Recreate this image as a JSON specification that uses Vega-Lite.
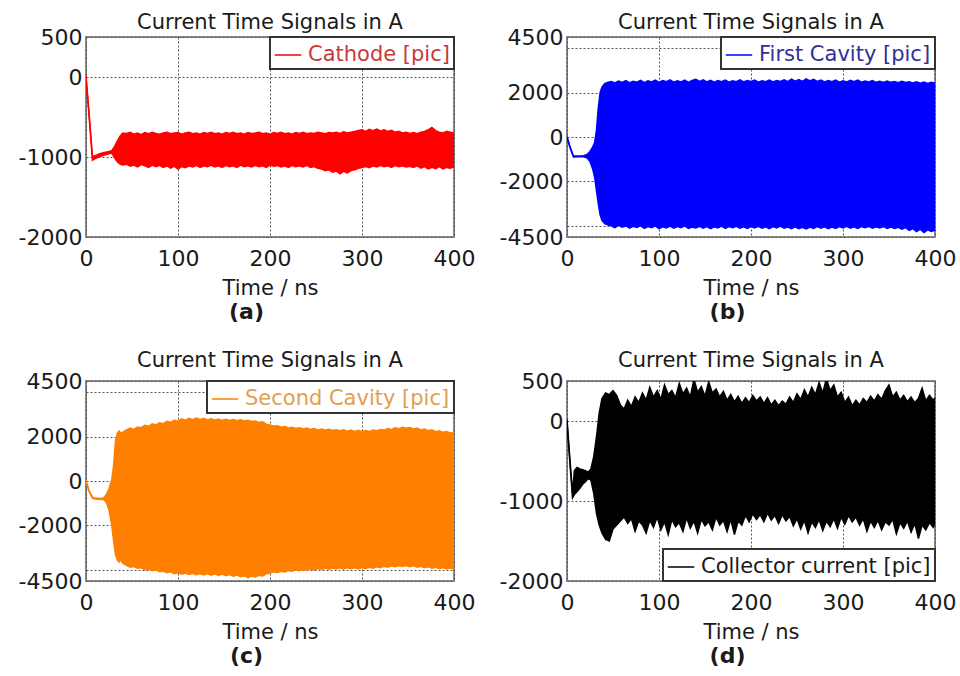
{
  "$schema": "https://vega.github.io/schema/vega-lite/v6.json",
  "autosize": {"type": "pad"},
  "padding": {"left": 17, "top": 11, "right": 2, "bottom": 2},
  "background": "white",
  "config": {
    "font": "DejaVu Sans",
    "view": {"stroke": "#8a8a8a", "strokeWidth": 2},
    "axis": {"domain": false, "ticks": false, "labelPadding": 4, "labelFontSize": 22, "labelColor": "#1a1a1a", "titleFontSize": 21, "titleFontWeight": "normal", "titleColor": "#1a1a1a", "grid": true, "gridColor": "#555555", "gridDash": [2, 2], "gridWidth": 1, "labelFlush": false, "labelOverlap": false},
    "axisX": {"labelPadding": 11, "titlePadding": 8},
    "title": {"fontSize": 21, "fontWeight": "normal", "color": "#1a1a1a", "offset": -7, "anchor": "middle"},
    "legend": {"title": null, "labelFontSize": 21, "symbolType": "stroke", "symbolSize": 700, "symbolStrokeWidth": 1.5, "strokeColor": "#333333", "strokeWidth": 2, "fillColor": "white", "padding": 4, "offset": 0, "labelLimit": 400, "labelOffset": 6}
  },
  "datasets": {
    "a": [
      {"t":0,"hi":20,"lo":-20},{"t":3,"hi":-400,"lo":-440},{"t":7,"hi":-990,"lo":-1040},{"t":10,"hi":-985,"lo":-1020},{"t":15,"hi":-960,"lo":-995},{"t":20,"hi":-945,"lo":-975},{"t":25,"hi":-930,"lo":-960},{"t":28,"hi":-920,"lo":-950},{"t":31,"hi":-870,"lo":-1010},{"t":34,"hi":-800,"lo":-1060},{"t":37,"hi":-740,"lo":-1090},{"t":40,"hi":-700,"lo":-1100},
      {"t":44,"hi":-705,"lo":-1090},{"t":48,"hi":-690,"lo":-1115},{"t":52,"hi":-715,"lo":-1100},{"t":56,"hi":-700,"lo":-1125},{"t":60,"hi":-720,"lo":-1095},{"t":64,"hi":-695,"lo":-1110},{"t":68,"hi":-710,"lo":-1130},{"t":72,"hi":-690,"lo":-1100},{"t":76,"hi":-705,"lo":-1120},{"t":80,"hi":-715,"lo":-1105},{"t":84,"hi":-700,"lo":-1130},{"t":88,"hi":-690,"lo":-1110},{"t":92,"hi":-710,"lo":-1140},{"t":96,"hi":-700,"lo":-1115},{"t":100,"hi":-695,"lo":-1150},{"t":104,"hi":-715,"lo":-1120},{"t":108,"hi":-700,"lo":-1135},{"t":112,"hi":-690,"lo":-1110},{"t":116,"hi":-710,"lo":-1125},{"t":120,"hi":-700,"lo":-1105},{"t":124,"hi":-715,"lo":-1130},{"t":128,"hi":-695,"lo":-1110},{"t":132,"hi":-705,"lo":-1120},{"t":136,"hi":-690,"lo":-1100},{"t":140,"hi":-710,"lo":-1125},{"t":144,"hi":-700,"lo":-1110},{"t":148,"hi":-715,"lo":-1130},{"t":152,"hi":-695,"lo":-1105},{"t":156,"hi":-705,"lo":-1120},{"t":160,"hi":-690,"lo":-1110},{"t":164,"hi":-710,"lo":-1130},{"t":168,"hi":-700,"lo":-1100},{"t":172,"hi":-715,"lo":-1120},{"t":176,"hi":-695,"lo":-1110},{"t":180,"hi":-705,"lo":-1125},{"t":184,"hi":-700,"lo":-1105},{"t":188,"hi":-690,"lo":-1120},{"t":192,"hi":-710,"lo":-1110},{"t":196,"hi":-700,"lo":-1130},{"t":200,"hi":-715,"lo":-1100},{"t":204,"hi":-695,"lo":-1115},{"t":208,"hi":-705,"lo":-1105},{"t":212,"hi":-690,"lo":-1125},{"t":216,"hi":-710,"lo":-1110},{"t":220,"hi":-700,"lo":-1130},{"t":224,"hi":-715,"lo":-1105},{"t":228,"hi":-695,"lo":-1120},{"t":232,"hi":-705,"lo":-1110},{"t":236,"hi":-690,"lo":-1125},{"t":240,"hi":-710,"lo":-1105},{"t":244,"hi":-700,"lo":-1130},{"t":248,"hi":-705,"lo":-1120},{"t":252,"hi":-690,"lo":-1140},{"t":256,"hi":-700,"lo":-1150},{"t":260,"hi":-710,"lo":-1170},{"t":264,"hi":-695,"lo":-1160},{"t":268,"hi":-700,"lo":-1190},{"t":272,"hi":-690,"lo":-1175},{"t":276,"hi":-705,"lo":-1210},{"t":280,"hi":-685,"lo":-1180},{"t":284,"hi":-700,"lo":-1200},{"t":288,"hi":-690,"lo":-1170},{"t":292,"hi":-680,"lo":-1160},{"t":296,"hi":-670,"lo":-1140},{"t":300,"hi":-660,"lo":-1130},{"t":304,"hi":-680,"lo":-1120},{"t":308,"hi":-655,"lo":-1135},{"t":312,"hi":-670,"lo":-1110},{"t":316,"hi":-650,"lo":-1125},{"t":320,"hi":-675,"lo":-1105},{"t":324,"hi":-660,"lo":-1120},{"t":328,"hi":-680,"lo":-1110},{"t":332,"hi":-665,"lo":-1130},{"t":336,"hi":-690,"lo":-1105},{"t":340,"hi":-680,"lo":-1120},{"t":344,"hi":-700,"lo":-1110},{"t":348,"hi":-690,"lo":-1125},{"t":352,"hi":-705,"lo":-1115},{"t":356,"hi":-695,"lo":-1130},{"t":360,"hi":-710,"lo":-1110},{"t":364,"hi":-690,"lo":-1140},{"t":368,"hi":-680,"lo":-1120},{"t":372,"hi":-660,"lo":-1150},{"t":376,"hi":-630,"lo":-1130},{"t":380,"hi":-670,"lo":-1145},{"t":384,"hi":-690,"lo":-1120},{"t":388,"hi":-700,"lo":-1150},{"t":392,"hi":-680,"lo":-1130},{"t":396,"hi":-690,"lo":-1140},{"t":400,"hi":-700,"lo":-1120}
    ],
    "b": [
      {"t":0,"hi":20,"lo":-20},{"t":3,"hi":-400,"lo":-440},{"t":7,"hi":-850,"lo":-900},{"t":12,"hi":-850,"lo":-890},{"t":18,"hi":-840,"lo":-880},{"t":22,"hi":-780,"lo":-950},{"t":25,"hi":-650,"lo":-1100},{"t":28,"hi":-450,"lo":-1450},{"t":30,"hi":-250,"lo":-1800},{"t":32,"hi":300,"lo":-2400},{"t":34,"hi":1300,"lo":-3000},{"t":36,"hi":2000,"lo":-3500},{"t":38,"hi":2250,"lo":-3750},{"t":41,"hi":2400,"lo":-3900},{"t":44,"hi":2450,"lo":-3950},
      {"t":48,"hi":2500,"lo":-4000},{"t":52,"hi":2430,"lo":-4080},{"t":56,"hi":2520,"lo":-3980},{"t":60,"hi":2460,"lo":-4060},{"t":64,"hi":2540,"lo":-4000},{"t":68,"hi":2440,"lo":-4100},{"t":72,"hi":2510,"lo":-4020},{"t":76,"hi":2470,"lo":-4070},{"t":80,"hi":2550,"lo":-3990},{"t":84,"hi":2450,"lo":-4110},{"t":88,"hi":2530,"lo":-4030},{"t":92,"hi":2480,"lo":-4080},{"t":96,"hi":2560,"lo":-4000},{"t":100,"hi":2460,"lo":-4120},{"t":104,"hi":2540,"lo":-4040},{"t":108,"hi":2490,"lo":-4090},{"t":112,"hi":2570,"lo":-4010},{"t":116,"hi":2470,"lo":-4100},{"t":120,"hi":2530,"lo":-4030},{"t":124,"hi":2480,"lo":-4080},{"t":128,"hi":2560,"lo":-4000},{"t":132,"hi":2460,"lo":-4110},{"t":136,"hi":2540,"lo":-4050},{"t":140,"hi":2600,"lo":-4090},{"t":144,"hi":2500,"lo":-4020},{"t":148,"hi":2570,"lo":-4100},{"t":152,"hi":2480,"lo":-4030},{"t":156,"hi":2550,"lo":-4120},{"t":160,"hi":2470,"lo":-4040},{"t":164,"hi":2540,"lo":-4090},{"t":168,"hi":2490,"lo":-4010},{"t":172,"hi":2560,"lo":-4110},{"t":176,"hi":2470,"lo":-4030},{"t":180,"hi":2530,"lo":-4080},{"t":184,"hi":2490,"lo":-4020},{"t":188,"hi":2570,"lo":-4100},{"t":192,"hi":2480,"lo":-4040},{"t":196,"hi":2540,"lo":-4110},{"t":200,"hi":2500,"lo":-4030},{"t":204,"hi":2560,"lo":-4090},{"t":208,"hi":2470,"lo":-4020},{"t":212,"hi":2530,"lo":-4100},{"t":216,"hi":2490,"lo":-4040},{"t":220,"hi":2560,"lo":-4120},{"t":224,"hi":2480,"lo":-4030},{"t":228,"hi":2540,"lo":-4090},{"t":232,"hi":2500,"lo":-4010},{"t":236,"hi":2570,"lo":-4100},{"t":240,"hi":2490,"lo":-4050},{"t":244,"hi":2600,"lo":-4120},{"t":248,"hi":2510,"lo":-4040},{"t":252,"hi":2580,"lo":-4130},{"t":256,"hi":2500,"lo":-4060},{"t":260,"hi":2620,"lo":-4140},{"t":264,"hi":2520,"lo":-4050},{"t":268,"hi":2590,"lo":-4110},{"t":272,"hi":2500,"lo":-4030},{"t":276,"hi":2560,"lo":-4100},{"t":280,"hi":2480,"lo":-4040},{"t":284,"hi":2540,"lo":-4120},{"t":288,"hi":2490,"lo":-4050},{"t":292,"hi":2560,"lo":-4110},{"t":296,"hi":2470,"lo":-4030},{"t":300,"hi":2530,"lo":-4090},{"t":304,"hi":2480,"lo":-4020},{"t":308,"hi":2550,"lo":-4100},{"t":312,"hi":2490,"lo":-4040},{"t":316,"hi":2560,"lo":-4110},{"t":320,"hi":2470,"lo":-4030},{"t":324,"hi":2520,"lo":-4080},{"t":328,"hi":2480,"lo":-4020},{"t":332,"hi":2540,"lo":-4100},{"t":336,"hi":2460,"lo":-4040},{"t":340,"hi":2510,"lo":-4090},{"t":344,"hi":2450,"lo":-4030},{"t":348,"hi":2520,"lo":-4110},{"t":352,"hi":2460,"lo":-4050},{"t":356,"hi":2500,"lo":-4120},{"t":360,"hi":2440,"lo":-4060},{"t":364,"hi":2510,"lo":-4150},{"t":368,"hi":2450,"lo":-4080},{"t":372,"hi":2490,"lo":-4200},{"t":376,"hi":2430,"lo":-4120},{"t":380,"hi":2480,"lo":-4260},{"t":384,"hi":2420,"lo":-4150},{"t":388,"hi":2470,"lo":-4300},{"t":392,"hi":2410,"lo":-4180},{"t":396,"hi":2460,"lo":-4250},{"t":400,"hi":2420,"lo":-4200}
    ],
    "c": [
      {"t":0,"hi":20,"lo":-20},{"t":3,"hi":-400,"lo":-440},{"t":7,"hi":-730,"lo":-780},{"t":10,"hi":-770,"lo":-810},{"t":15,"hi":-790,"lo":-830},{"t":19,"hi":-760,"lo":-820},{"t":22,"hi":-620,"lo":-950},{"t":25,"hi":-350,"lo":-1300},{"t":28,"hi":50,"lo":-2000},{"t":30,"hi":700,"lo":-2700},{"t":32,"hi":1800,"lo":-3300},{"t":34,"hi":2150,"lo":-3550},{"t":36,"hi":2250,"lo":-3650},{"t":38,"hi":2150,"lo":-3550},{"t":40,"hi":2200,"lo":-3700},
      {"t":44,"hi":2300,"lo":-3800},{"t":48,"hi":2380,"lo":-3880},{"t":52,"hi":2320,"lo":-3850},{"t":56,"hi":2430,"lo":-3930},{"t":60,"hi":2400,"lo":-3900},{"t":64,"hi":2510,"lo":-3990},{"t":68,"hi":2460,"lo":-3960},{"t":72,"hi":2570,"lo":-4040},{"t":76,"hi":2520,"lo":-4000},{"t":80,"hi":2620,"lo":-4080},{"t":84,"hi":2580,"lo":-4050},{"t":88,"hi":2690,"lo":-4130},{"t":92,"hi":2640,"lo":-4090},{"t":96,"hi":2740,"lo":-4170},{"t":100,"hi":2690,"lo":-4130},{"t":104,"hi":2800,"lo":-4190},{"t":108,"hi":2740,"lo":-4140},{"t":112,"hi":2820,"lo":-4210},{"t":116,"hi":2760,"lo":-4150},{"t":120,"hi":2830,"lo":-4220},{"t":124,"hi":2770,"lo":-4160},{"t":128,"hi":2820,"lo":-4230},{"t":132,"hi":2750,"lo":-4170},{"t":136,"hi":2800,"lo":-4240},{"t":140,"hi":2740,"lo":-4180},{"t":144,"hi":2790,"lo":-4250},{"t":148,"hi":2730,"lo":-4190},{"t":152,"hi":2780,"lo":-4260},{"t":156,"hi":2720,"lo":-4210},{"t":160,"hi":2770,"lo":-4280},{"t":164,"hi":2710,"lo":-4230},{"t":168,"hi":2750,"lo":-4310},{"t":172,"hi":2700,"lo":-4260},{"t":176,"hi":2730,"lo":-4350},{"t":180,"hi":2680,"lo":-4280},{"t":184,"hi":2700,"lo":-4320},{"t":188,"hi":2640,"lo":-4240},{"t":192,"hi":2660,"lo":-4270},{"t":196,"hi":2560,"lo":-4180},{"t":200,"hi":2520,"lo":-4140},{"t":204,"hi":2470,"lo":-4090},{"t":208,"hi":2490,"lo":-4120},{"t":212,"hi":2420,"lo":-4060},{"t":216,"hi":2450,"lo":-4090},{"t":220,"hi":2390,"lo":-4030},{"t":224,"hi":2420,"lo":-4060},{"t":228,"hi":2360,"lo":-4000},{"t":232,"hi":2400,"lo":-4040},{"t":236,"hi":2340,"lo":-3980},{"t":240,"hi":2380,"lo":-4010},{"t":244,"hi":2320,"lo":-3960},{"t":248,"hi":2360,"lo":-4000},{"t":252,"hi":2300,"lo":-3940},{"t":256,"hi":2340,"lo":-3980},{"t":260,"hi":2290,"lo":-3930},{"t":264,"hi":2330,"lo":-3970},{"t":268,"hi":2270,"lo":-3920},{"t":272,"hi":2310,"lo":-3960},{"t":276,"hi":2260,"lo":-3910},{"t":280,"hi":2300,"lo":-3960},{"t":284,"hi":2240,"lo":-3900},{"t":288,"hi":2290,"lo":-3950},{"t":292,"hi":2230,"lo":-3910},{"t":296,"hi":2280,"lo":-3960},{"t":300,"hi":2220,"lo":-3900},{"t":304,"hi":2270,"lo":-3940},{"t":308,"hi":2230,"lo":-3880},{"t":312,"hi":2290,"lo":-3920},{"t":316,"hi":2260,"lo":-3860},{"t":320,"hi":2320,"lo":-3900},{"t":324,"hi":2290,"lo":-3840},{"t":328,"hi":2360,"lo":-3880},{"t":332,"hi":2320,"lo":-3820},{"t":336,"hi":2390,"lo":-3860},{"t":340,"hi":2350,"lo":-3800},{"t":344,"hi":2420,"lo":-3850},{"t":348,"hi":2370,"lo":-3800},{"t":352,"hi":2410,"lo":-3860},{"t":356,"hi":2340,"lo":-3820},{"t":360,"hi":2380,"lo":-3880},{"t":364,"hi":2300,"lo":-3840},{"t":368,"hi":2340,"lo":-3900},{"t":372,"hi":2260,"lo":-3860},{"t":376,"hi":2300,"lo":-3920},{"t":380,"hi":2220,"lo":-3880},{"t":384,"hi":2260,"lo":-3940},{"t":388,"hi":2190,"lo":-3900},{"t":392,"hi":2230,"lo":-3960},{"t":396,"hi":2160,"lo":-3920},{"t":400,"hi":2180,"lo":-3960}
    ],
    "d": [
      {"t":0,"hi":20,"lo":-20},{"t":3,"hi":-450,"lo":-500},{"t":6,"hi":-900,"lo":-960},{"t":8,"hi":-620,"lo":-920},{"t":11,"hi":-580,"lo":-880},{"t":14,"hi":-600,"lo":-840},{"t":17,"hi":-610,"lo":-790},{"t":20,"hi":-620,"lo":-760},{"t":23,"hi":-640,"lo":-720},{"t":26,"hi":-600,"lo":-740},{"t":29,"hi":-450,"lo":-900},{"t":32,"hi":-200,"lo":-1150},{"t":35,"hi":100,"lo":-1300},{"t":38,"hi":280,"lo":-1400},{"t":42,"hi":350,"lo":-1480},{"t":46,"hi":330,"lo":-1500},{"t":50,"hi":380,"lo":-1350},{"t":54,"hi":320,"lo":-1300},{"t":58,"hi":200,"lo":-1250},{"t":62,"hi":150,"lo":-1200},
      {"t":66,"hi":260,"lo":-1280},{"t":70,"hi":180,"lo":-1220},{"t":74,"hi":300,"lo":-1380},{"t":78,"hi":230,"lo":-1250},{"t":82,"hi":350,"lo":-1300},{"t":86,"hi":260,"lo":-1400},{"t":90,"hi":420,"lo":-1240},{"t":94,"hi":300,"lo":-1330},{"t":98,"hi":380,"lo":-1200},{"t":102,"hi":270,"lo":-1360},{"t":106,"hi":450,"lo":-1260},{"t":110,"hi":330,"lo":-1420},{"t":114,"hi":380,"lo":-1230},{"t":118,"hi":290,"lo":-1320},{"t":122,"hi":470,"lo":-1270},{"t":126,"hi":340,"lo":-1380},{"t":130,"hi":410,"lo":-1210},{"t":134,"hi":300,"lo":-1340},{"t":138,"hi":520,"lo":-1250},{"t":142,"hi":360,"lo":-1400},{"t":146,"hi":430,"lo":-1230},{"t":150,"hi":310,"lo":-1310},{"t":154,"hi":490,"lo":-1260},{"t":158,"hi":350,"lo":-1360},{"t":162,"hi":400,"lo":-1200},{"t":166,"hi":300,"lo":-1300},{"t":170,"hi":370,"lo":-1240},{"t":174,"hi":260,"lo":-1380},{"t":178,"hi":330,"lo":-1230},{"t":182,"hi":240,"lo":-1420},{"t":186,"hi":310,"lo":-1250},{"t":190,"hi":220,"lo":-1300},{"t":194,"hi":290,"lo":-1180},{"t":198,"hi":230,"lo":-1260},{"t":202,"hi":320,"lo":-1160},{"t":206,"hi":250,"lo":-1230},{"t":210,"hi":300,"lo":-1170},{"t":214,"hi":220,"lo":-1260},{"t":218,"hi":290,"lo":-1150},{"t":222,"hi":200,"lo":-1240},{"t":226,"hi":260,"lo":-1180},{"t":230,"hi":190,"lo":-1280},{"t":234,"hi":250,"lo":-1170},{"t":238,"hi":210,"lo":-1250},{"t":242,"hi":300,"lo":-1190},{"t":246,"hi":230,"lo":-1310},{"t":250,"hi":340,"lo":-1220},{"t":254,"hi":270,"lo":-1350},{"t":258,"hi":390,"lo":-1240},{"t":262,"hi":300,"lo":-1400},{"t":266,"hi":420,"lo":-1260},{"t":270,"hi":330,"lo":-1330},{"t":274,"hi":480,"lo":-1230},{"t":278,"hi":350,"lo":-1370},{"t":282,"hi":530,"lo":-1250},{"t":286,"hi":380,"lo":-1320},{"t":290,"hi":450,"lo":-1220},{"t":294,"hi":300,"lo":-1340},{"t":298,"hi":360,"lo":-1200},{"t":302,"hi":230,"lo":-1290},{"t":306,"hi":300,"lo":-1180},{"t":310,"hi":190,"lo":-1260},{"t":314,"hi":260,"lo":-1200},{"t":318,"hi":200,"lo":-1300},{"t":322,"hi":280,"lo":-1220},{"t":326,"hi":230,"lo":-1380},{"t":330,"hi":310,"lo":-1250},{"t":334,"hi":250,"lo":-1330},{"t":338,"hi":330,"lo":-1240},{"t":342,"hi":270,"lo":-1360},{"t":346,"hi":380,"lo":-1260},{"t":350,"hi":450,"lo":-1300},{"t":354,"hi":300,"lo":-1230},{"t":358,"hi":360,"lo":-1410},{"t":362,"hi":260,"lo":-1270},{"t":366,"hi":320,"lo":-1340},{"t":370,"hi":240,"lo":-1250},{"t":374,"hi":300,"lo":-1390},{"t":378,"hi":230,"lo":-1280},{"t":382,"hi":280,"lo":-1470},{"t":386,"hi":410,"lo":-1300},{"t":390,"hi":250,"lo":-1360},{"t":394,"hi":320,"lo":-1270},{"t":398,"hi":260,"lo":-1330},{"t":400,"hi":290,"lo":-1280}
    ]
  },
  "resolve": {"scale": {"color": "independent"}, "legend": {"color": "independent"}},
  "spacing": 26,
  "vconcat": [
    {
      "hconcat": [
        {
          "title": {"text": "(a)", "orient": "bottom", "fontWeight": "bold", "fontSize": 22, "offset": 3},
          "resolve": {"scale": {"color": "independent"}, "legend": {"color": "independent"}},
          "vconcat": [
            {
              "width": 368, "height": 200,
              "title": "Current Time Signals in A",
              "data": {"name": "a"},
              "encoding": {
                "x": {"field": "t", "type": "quantitative", "scale": {"domain": [0, 400], "nice": false}, "axis": {"values": [0, 100, 200, 300, 400], "title": "Time / ns"}},
                "color": {"datum": "Cathode [pic]", "type": "nominal", "scale": {"range": ["#ff0000"]}, "legend": {"orient": "top-right", "labelColor": "#c83a3a", "symbolStrokeColor": "#c83a3a"}}
              },
              "layer": [
                {"mark": {"type": "area", "clip": true, "opacity": 1}, "encoding": {"y": {"field": "hi", "type": "quantitative", "scale": {"domain": [-2000, 500], "nice": false, "zero": false}, "axis": {"values": [500, 0, -1000, -2000], "labelExpr": "toString(datum.value)", "title": null}}, "y2": {"field": "lo"}}},
                {"mark": {"type": "line", "clip": true, "strokeWidth": 1.5}, "encoding": {"y": {"field": "hi", "type": "quantitative", "axis": {"values": [500, 0, -1000, -2000], "labelExpr": "toString(datum.value)", "title": null}}}},
                {"mark": {"type": "line", "clip": true, "strokeWidth": 1.5}, "encoding": {"y": {"field": "lo", "type": "quantitative", "axis": {"values": [500, 0, -1000, -2000], "labelExpr": "toString(datum.value)", "title": null}}}}
              ]
            }
          ]
        },
        {
          "title": {"text": "(b)", "orient": "bottom", "fontWeight": "bold", "fontSize": 22, "offset": 3},
          "resolve": {"scale": {"color": "independent"}, "legend": {"color": "independent"}},
          "vconcat": [
            {
              "width": 368, "height": 200,
              "title": "Current Time Signals in A",
              "data": {"name": "b"},
              "encoding": {
                "x": {"field": "t", "type": "quantitative", "scale": {"domain": [0, 400], "nice": false}, "axis": {"values": [0, 100, 200, 300, 400], "title": "Time / ns"}},
                "color": {"datum": "First Cavity [pic]", "type": "nominal", "scale": {"range": ["#0000ff"]}, "legend": {"orient": "top-right", "labelColor": "#30309a", "symbolStrokeColor": "#3040b0"}}
              },
              "layer": [
                {"mark": {"type": "area", "clip": true, "opacity": 1}, "encoding": {"y": {"field": "hi", "type": "quantitative", "scale": {"domain": [-4500, 4500], "nice": false, "zero": false}, "axis": {"values": [4500, 4000, 2000, 0, -2000, -4000, -4500], "labelExpr": "abs(datum.value) == 4000 ? '' : toString(datum.value)", "title": null}}, "y2": {"field": "lo"}}},
                {"mark": {"type": "line", "clip": true, "strokeWidth": 1.5}, "encoding": {"y": {"field": "hi", "type": "quantitative", "axis": {"values": [4500, 4000, 2000, 0, -2000, -4000, -4500], "labelExpr": "abs(datum.value) == 4000 ? '' : toString(datum.value)", "title": null}}}},
                {"mark": {"type": "line", "clip": true, "strokeWidth": 1.5}, "encoding": {"y": {"field": "lo", "type": "quantitative", "axis": {"values": [4500, 4000, 2000, 0, -2000, -4000, -4500], "labelExpr": "abs(datum.value) == 4000 ? '' : toString(datum.value)", "title": null}}}}
              ]
            }
          ]
        }
      ],
      "spacing": 22,
      "resolve": {"scale": {"color": "independent"}, "legend": {"color": "independent"}}
    },
    {
      "hconcat": [
        {
          "title": {"text": "(c)", "orient": "bottom", "fontWeight": "bold", "fontSize": 22, "offset": 3},
          "resolve": {"scale": {"color": "independent"}, "legend": {"color": "independent"}},
          "vconcat": [
            {
              "width": 368, "height": 200,
              "title": {"text": "Current Time Signals in A", "offset": -1},
              "data": {"name": "c"},
              "encoding": {
                "x": {"field": "t", "type": "quantitative", "scale": {"domain": [0, 400], "nice": false}, "axis": {"values": [0, 100, 200, 300, 400], "title": "Time / ns"}},
                "color": {"datum": "Second Cavity [pic]", "type": "nominal", "scale": {"range": ["#ff8000"]}, "legend": {"orient": "top-right", "labelColor": "#e0a050", "symbolStrokeColor": "#e89040"}}
              },
              "layer": [
                {"mark": {"type": "area", "clip": true, "opacity": 1}, "encoding": {"y": {"field": "hi", "type": "quantitative", "scale": {"domain": [-4500, 4500], "nice": false, "zero": false}, "axis": {"values": [4500, 4000, 2000, 0, -2000, -4000, -4500], "labelExpr": "abs(datum.value) == 4000 ? '' : toString(datum.value)", "title": null}}, "y2": {"field": "lo"}}},
                {"mark": {"type": "line", "clip": true, "strokeWidth": 1.5}, "encoding": {"y": {"field": "hi", "type": "quantitative", "axis": {"values": [4500, 4000, 2000, 0, -2000, -4000, -4500], "labelExpr": "abs(datum.value) == 4000 ? '' : toString(datum.value)", "title": null}}}},
                {"mark": {"type": "line", "clip": true, "strokeWidth": 1.5}, "encoding": {"y": {"field": "lo", "type": "quantitative", "axis": {"values": [4500, 4000, 2000, 0, -2000, -4000, -4500], "labelExpr": "abs(datum.value) == 4000 ? '' : toString(datum.value)", "title": null}}}}
              ]
            }
          ]
        },
        {
          "title": {"text": "(d)", "orient": "bottom", "fontWeight": "bold", "fontSize": 22, "offset": 3},
          "resolve": {"scale": {"color": "independent"}, "legend": {"color": "independent"}},
          "vconcat": [
            {
              "width": 368, "height": 200,
              "title": {"text": "Current Time Signals in A", "offset": -1},
              "data": {"name": "d"},
              "encoding": {
                "x": {"field": "t", "type": "quantitative", "scale": {"domain": [0, 400], "nice": false}, "axis": {"values": [0, 100, 200, 300, 400], "title": "Time / ns"}},
                "color": {"datum": "Collector current [pic]", "type": "nominal", "scale": {"range": ["#000000"]}, "legend": {"orient": "bottom-right", "labelColor": "#1a1a1a", "symbolStrokeColor": "#1a1a1a"}}
              },
              "layer": [
                {"mark": {"type": "area", "clip": true, "opacity": 1}, "encoding": {"y": {"field": "hi", "type": "quantitative", "scale": {"domain": [-2000, 500], "nice": false, "zero": false}, "axis": {"values": [500, 0, -1000, -2000], "labelExpr": "toString(datum.value)", "title": null}}, "y2": {"field": "lo"}}},
                {"mark": {"type": "line", "clip": true, "strokeWidth": 1.5}, "encoding": {"y": {"field": "hi", "type": "quantitative", "axis": {"values": [500, 0, -1000, -2000], "labelExpr": "toString(datum.value)", "title": null}}}},
                {"mark": {"type": "line", "clip": true, "strokeWidth": 1.5}, "encoding": {"y": {"field": "lo", "type": "quantitative", "axis": {"values": [500, 0, -1000, -2000], "labelExpr": "toString(datum.value)", "title": null}}}}
              ]
            }
          ]
        }
      ],
      "spacing": 22,
      "resolve": {"scale": {"color": "independent"}, "legend": {"color": "independent"}}
    }
  ]
}
